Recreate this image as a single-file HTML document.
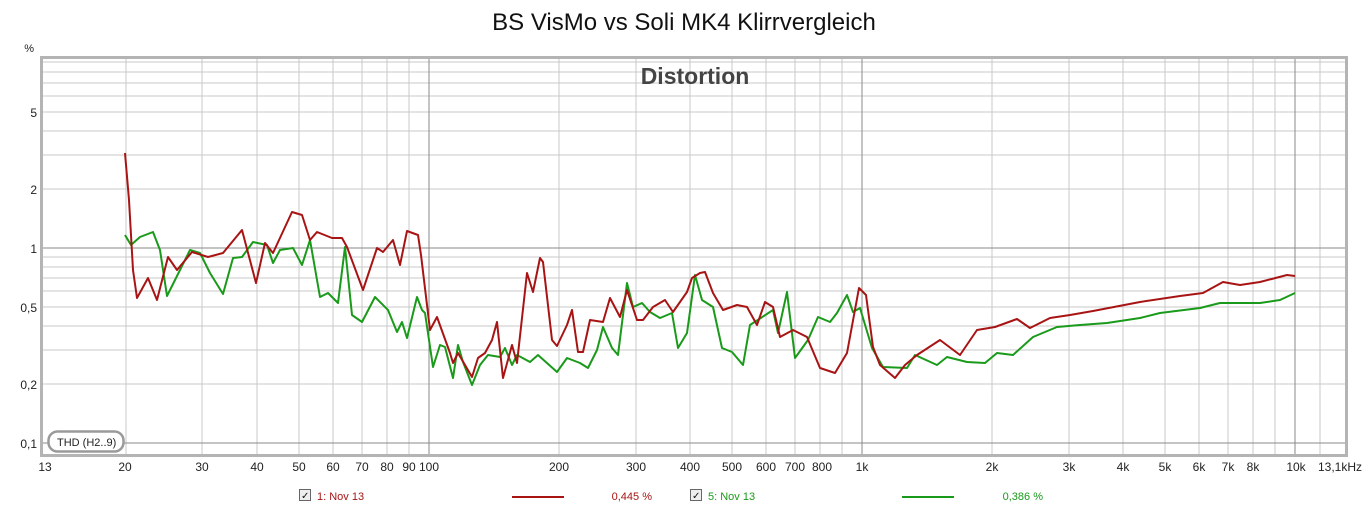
<!DOCTYPE html>
<html><head><meta charset="utf-8"><style>
body{margin:0;background:#fff;width:1369px;height:512px;overflow:hidden;font-family:"Liberation Sans",sans-serif}
</style></head><body>
<svg width="1369" height="512" xmlns="http://www.w3.org/2000/svg" font-family="Liberation Sans, sans-serif">
<rect width="1369" height="512" fill="#fff"/>
<text x="684" y="30" font-size="24" text-anchor="middle" fill="#111">BS VisMo vs Soli MK4 Klirrvergleich</text>
<text x="34" y="52" font-size="11" text-anchor="end" fill="#222">%</text>
<g stroke="#c8c8c8" stroke-width="1">
<line x1="126" y1="58" x2="126" y2="455"/><line x1="202" y1="58" x2="202" y2="455"/><line x1="257" y1="58" x2="257" y2="455"/><line x1="299" y1="58" x2="299" y2="455"/><line x1="333" y1="58" x2="333" y2="455"/><line x1="362" y1="58" x2="362" y2="455"/><line x1="387" y1="58" x2="387" y2="455"/><line x1="409" y1="58" x2="409" y2="455"/>
<line x1="559" y1="58" x2="559" y2="455"/><line x1="636" y1="58" x2="636" y2="455"/><line x1="690" y1="58" x2="690" y2="455"/><line x1="732" y1="58" x2="732" y2="455"/><line x1="766" y1="58" x2="766" y2="455"/><line x1="795" y1="58" x2="795" y2="455"/><line x1="820" y1="58" x2="820" y2="455"/><line x1="842" y1="58" x2="842" y2="455"/>
<line x1="992" y1="58" x2="992" y2="455"/><line x1="1069" y1="58" x2="1069" y2="455"/><line x1="1123" y1="58" x2="1123" y2="455"/><line x1="1165" y1="58" x2="1165" y2="455"/><line x1="1199" y1="58" x2="1199" y2="455"/><line x1="1228" y1="58" x2="1228" y2="455"/><line x1="1253" y1="58" x2="1253" y2="455"/><line x1="1275" y1="58" x2="1275" y2="455"/><line x1="1320" y1="58" x2="1320" y2="455"/>
<line x1="42" y1="384" x2="1346" y2="384"/><line x1="42" y1="350" x2="1346" y2="350"/><line x1="42" y1="326" x2="1346" y2="326"/><line x1="42" y1="307" x2="1346" y2="307"/><line x1="42" y1="291" x2="1346" y2="291"/><line x1="42" y1="278" x2="1346" y2="278"/><line x1="42" y1="267" x2="1346" y2="267"/><line x1="42" y1="257" x2="1346" y2="257"/>
<line x1="42" y1="189" x2="1346" y2="189"/><line x1="42" y1="155" x2="1346" y2="155"/><line x1="42" y1="131" x2="1346" y2="131"/><line x1="42" y1="112" x2="1346" y2="112"/><line x1="42" y1="96" x2="1346" y2="96"/><line x1="42" y1="83" x2="1346" y2="83"/><line x1="42" y1="72" x2="1346" y2="72"/><line x1="42" y1="62" x2="1346" y2="62"/>
</g>
<g stroke="#8a8a8a" stroke-width="1">
<line x1="429" y1="58" x2="429" y2="455"/><line x1="862" y1="58" x2="862" y2="455"/><line x1="1295" y1="58" x2="1295" y2="455"/>
<line x1="42" y1="248" x2="1346" y2="248"/><line x1="42" y1="443" x2="1346" y2="443"/>
</g>
<rect x="41.5" y="57.5" width="1305" height="398" fill="none" stroke="#b4b4b4" stroke-width="3"/>
<text x="695" y="84" font-size="23" font-weight="bold" text-anchor="middle" fill="#444">Distortion</text>
<g font-size="12" fill="#222" text-anchor="end">
<text x="37" y="117">5</text><text x="37" y="194">2</text><text x="37" y="253">1</text><text x="37" y="312">0,5</text><text x="37" y="389">0,2</text><text x="37" y="448">0,1</text>
</g>
<g font-size="12" fill="#222" text-anchor="middle">
<text x="45" y="471">13</text><text x="125" y="471">20</text><text x="202" y="471">30</text><text x="257" y="471">40</text><text x="299" y="471">50</text><text x="333" y="471">60</text><text x="362" y="471">70</text><text x="387" y="471">80</text><text x="409" y="471">90</text><text x="429" y="471">100</text>
<text x="559" y="471">200</text><text x="636" y="471">300</text><text x="690" y="471">400</text><text x="732" y="471">500</text><text x="766" y="471">600</text><text x="795" y="471">700</text><text x="822" y="471">800</text><text x="862" y="471">1k</text>
<text x="992" y="471">2k</text><text x="1069" y="471">3k</text><text x="1123" y="471">4k</text><text x="1165" y="471">5k</text><text x="1199" y="471">6k</text><text x="1228" y="471">7k</text><text x="1253" y="471">8k</text><text x="1296" y="471">10k</text><text x="1340" y="471">13,1kHz</text>
</g>
<rect x="48.5" y="431.5" width="75" height="20" rx="9" fill="#fff" stroke="#9a9a9a" stroke-width="2.5"/>
<text x="57" y="446" font-size="11" fill="#222">THD (H2..9)</text>
<polyline fill="none" stroke="#1a9a1a" stroke-width="2" stroke-linejoin="round" points="125,235 131,245 140,237 153,232 160,250 167,296 190,250 200,253 210,273 223,294 233,258 242,257 253,242 267,245 273,263 280,250 293,248 302,265 310,240 320,297 328,293 338,303 345,247 352,315 362,322 375,297 388,310 397,332 402,322 407,338 417,297 422,310 425,313 433,367 440,345 445,347 453,378 458,345 463,362 472,385 480,365 488,355 500,357 505,348 512,365 517,355 530,362 538,355 557,372 567,358 580,363 588,368 597,350 603,327 612,348 618,355 627,283 633,307 642,303 650,312 660,318 672,313 678,348 687,333 695,275 702,300 713,307 722,348 732,352 743,365 750,325 773,310 778,333 787,292 795,358 808,340 818,317 830,322 837,313 847,295 853,312 860,308 872,348 883,367 907,368 915,355 937,365 947,357 967,362 985,363 997,353 1013,355 1033,337 1057,327 1080,325 1107,323 1140,318 1160,313 1200,308 1220,303 1260,303 1280,300 1295,293"/>
<polyline fill="none" stroke="#a81414" stroke-width="2" stroke-linejoin="round" points="125,153 129,200 133,270 137,298 148,278 157,300 168,257 177,270 192,252 208,257 223,253 242,230 256,283 265,243 273,253 292,212 302,215 310,240 317,232 332,238 342,238 347,247 363,290 377,248 383,252 393,240 400,265 407,231 418,235 421,255 430,330 437,317 450,353 453,363 458,353 472,377 478,358 485,353 492,340 497,322 503,378 512,345 517,363 527,273 533,292 540,258 543,262 552,340 557,346 567,325 572,310 578,352 583,352 590,320 603,322 610,298 620,317 627,290 637,320 643,320 653,307 665,300 673,312 687,292 692,278 700,273 705,272 713,293 723,310 737,305 747,307 757,325 765,302 773,307 780,337 793,330 807,337 820,368 835,373 847,353 859,288 866,295 873,347 880,365 895,378 905,365 917,355 940,340 960,355 977,330 995,327 1017,319 1030,328 1050,318 1070,315 1093,311 1140,302 1180,296 1203,293 1223,282 1240,285 1260,282 1287,275 1295,276"/>
<rect x="299.5" y="489.5" width="11" height="11" fill="#eee" stroke="#666"/>
<text x="301" y="499" font-size="10" fill="#111">✓</text>
<text x="317" y="500" font-size="11" fill="#a81414">1: Nov 13</text>
<line x1="512" y1="497" x2="564" y2="497" stroke="#a81414" stroke-width="2"/>
<text x="652" y="500" font-size="11" fill="#a81414" text-anchor="end">0,445 %</text>
<rect x="690.5" y="489.5" width="11" height="11" fill="#eee" stroke="#666"/>
<text x="692" y="499" font-size="10" fill="#111">✓</text>
<text x="708" y="500" font-size="11" fill="#1a9a1a">5: Nov 13</text>
<line x1="902" y1="497" x2="954" y2="497" stroke="#1a9a1a" stroke-width="2"/>
<text x="1043" y="500" font-size="11" fill="#1a9a1a" text-anchor="end">0,386 %</text>
</svg>
</body></html>
